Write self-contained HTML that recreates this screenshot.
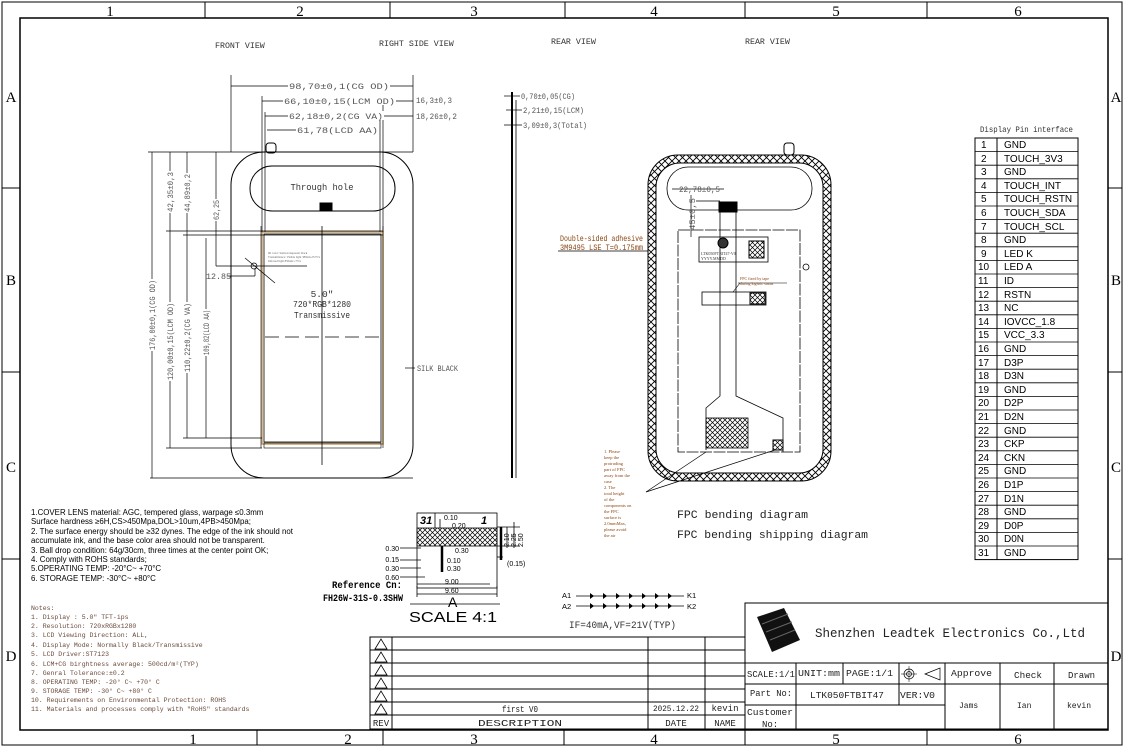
<!DOCTYPE html>
<html><head><meta charset="utf-8"><style>
html,body{margin:0;padding:0;background:#fff;}
svg{display:block;}
text{font-family:"Liberation Serif","Noto Serif CJK SC",serif;}
.m text,text.m{font-family:"Liberation Mono",monospace;}
.s text,text.s{font-family:"Liberation Sans",sans-serif;}
.d text{fill:#555;font-size:8px;font-family:"Liberation Mono",monospace;}
.n text{fill:#6a4a3a;font-size:6.5px;font-family:"Liberation Mono",monospace;}
.pin text{font-family:"Liberation Sans",sans-serif;font-size:10px;fill:#000;}
</style></head><body>
<svg width="1124" height="748" viewBox="0 0 1124 748" xmlns="http://www.w3.org/2000/svg">
<defs>
<pattern id="hx" width="7" height="7" patternUnits="userSpaceOnUse">
<path d="M0,0 L7,7 M7,0 L0,7" stroke="#000" stroke-width="0.9"/>
</pattern>
<pattern id="hx2" width="5" height="5" patternUnits="userSpaceOnUse">
<path d="M0,0 L5,5 M5,0 L0,5" stroke="#000" stroke-width="0.7"/>
</pattern>
</defs>
<rect width="1124" height="748" fill="#fff"/>
<rect x="2" y="2" width="1120" height="743" fill="none" stroke="#000" stroke-width="1"/>
<rect x="20" y="18" width="1088" height="712" fill="none" stroke="#000" stroke-width="1.5"/>
<g stroke="#000" stroke-width="1">
<line x1="205" y1="2" x2="205" y2="18"/><line x1="390" y1="2" x2="390" y2="18"/><line x1="565" y1="2" x2="565" y2="18"/><line x1="745" y1="2" x2="745" y2="18"/><line x1="927" y1="2" x2="927" y2="18"/>
<line x1="257" y1="730" x2="257" y2="745"/><line x1="383" y1="730" x2="383" y2="745"/><line x1="564" y1="730" x2="564" y2="745"/><line x1="745" y1="730" x2="745" y2="745"/><line x1="927" y1="730" x2="927" y2="745"/>
<line x1="2" y1="188" x2="20" y2="188"/><line x1="2" y1="372" x2="20" y2="372"/><line x1="2" y1="559" x2="20" y2="559"/>
<line x1="1108" y1="188" x2="1122" y2="188"/><line x1="1108" y1="372" x2="1122" y2="372"/><line x1="1108" y1="559" x2="1122" y2="559"/>
</g>
<g font-size="15" fill="#000" text-anchor="middle">
<text x="110" y="16">1</text><text x="300" y="16">2</text><text x="474" y="16">3</text><text x="654" y="16">4</text><text x="836" y="16">5</text><text x="1018" y="16">6</text>
<text x="193" y="744">1</text><text x="348" y="744">2</text><text x="474" y="744">3</text><text x="654" y="744">4</text><text x="836" y="744">5</text><text x="1018" y="744">6</text>
<text x="11" y="102">A</text><text x="11" y="285">B</text><text x="11" y="472">C</text><text x="11" y="661">D</text>
<text x="1116" y="102">A</text><text x="1116" y="285">B</text><text x="1116" y="472">C</text><text x="1116" y="661">D</text>
</g>
<g class="m" font-size="8.3" fill="#333">
<text x="215" y="48">FRONT VIEW</text><text x="379" y="46">RIGHT SIDE VIEW</text><text x="551" y="44">REAR VIEW</text><text x="745" y="44">REAR VIEW</text>
</g>
<!-- FRONT VIEW -->
<g fill="none" stroke="#000" stroke-width="1">
<rect x="231" y="152" width="182" height="326" rx="33"/>
<rect x="250" y="166" width="145" height="45" rx="22"/>
<rect x="320" y="203" width="12" height="8" fill="#000"/>
<rect x="266" y="143" width="10" height="10" rx="3"/>
<rect x="262" y="232" width="121" height="212" stroke="#c8a060" stroke-width="1.5"/>
<rect x="264" y="234" width="117" height="208" stroke="#000" stroke-width="0.8"/>
<line x1="322" y1="226" x2="322" y2="465" stroke-width="0.8"/>
<line x1="265" y1="337" x2="380" y2="337" stroke-dasharray="14,6" stroke-width="0.8"/>
<rect x="264" y="443" width="117" height="5" stroke-width="0.6"/>
<line x1="261" y1="226" x2="261" y2="448" stroke-width="0.6"/>
<line x1="383" y1="226" x2="383" y2="448" stroke-width="0.6"/>
</g>
<g stroke="#000" stroke-width="0.7" fill="none">
<line x1="231" y1="75" x2="231" y2="152"/><line x1="413" y1="75" x2="413" y2="152"/>
<line x1="231" y1="86" x2="413" y2="86"/>
<line x1="262" y1="96" x2="262" y2="232"/><line x1="383" y1="96" x2="383" y2="232"/>
<line x1="262" y1="101" x2="413" y2="101"/>
<line x1="265" y1="112" x2="265" y2="232"/><line x1="380" y1="112" x2="380" y2="232"/>
<line x1="265" y1="116" x2="413" y2="116"/>
<line x1="267" y1="130" x2="378" y2="130"/>
<line x1="148" y1="152" x2="413" y2="152"/>
<line x1="150" y1="478" x2="413" y2="478"/>
<line x1="166" y1="231" x2="383" y2="231"/>
<line x1="183" y1="235" x2="383" y2="235"/>
<line x1="166" y1="448" x2="262" y2="448"/>
<line x1="183" y1="438" x2="262" y2="438"/>
<line x1="152" y1="152" x2="152" y2="478"/>
<line x1="170" y1="152" x2="170" y2="448"/>
<line x1="187" y1="152" x2="187" y2="438"/>
<line x1="206" y1="238" x2="206" y2="438"/>
<line x1="216" y1="152" x2="216" y2="266"/>
<line x1="216" y1="266" x2="307" y2="266"/>
<line x1="227" y1="276" x2="255" y2="276"/><line x1="255" y1="276" x2="255" y2="268"/>
<line x1="245" y1="258" x2="275" y2="283"/>
<circle cx="254" cy="266" r="3"/>
<line x1="405" y1="368" x2="415" y2="368"/>
</g>
<g fill="#fff">
<rect x="288" y="81" width="102" height="9"/><rect x="283" y="96" width="113" height="9"/><rect x="288" y="111" width="96" height="9"/><rect x="296" y="125" width="83" height="9"/>
<rect x="148" y="279" width="9" height="72"/><rect x="166" y="302" width="9" height="79"/><rect x="183" y="302" width="9" height="71"/><rect x="202" y="309" width="9" height="47"/>
<rect x="166" y="171" width="9" height="42"/><rect x="183" y="173" width="9" height="40"/><rect x="212" y="199" width="9" height="22"/>
</g>
<g class="d">
<text x="289" y="89" textLength="100" lengthAdjust="spacingAndGlyphs">98,70±0,1(CG OD)</text>
<text x="284" y="104" textLength="111" lengthAdjust="spacingAndGlyphs">66,10±0,15(LCM OD)</text>
<text x="289" y="119" textLength="94" lengthAdjust="spacingAndGlyphs">62,18±0,2(CG VA)</text>
<text x="297" y="133" textLength="81" lengthAdjust="spacingAndGlyphs">61,78(LCD AA)</text>
<text x="416" y="103" textLength="36" lengthAdjust="spacingAndGlyphs">16,3±0,3</text>
<text x="416" y="119" textLength="41" lengthAdjust="spacingAndGlyphs">18,26±0,2</text>
<text x="206" y="279" textLength="25" lengthAdjust="spacingAndGlyphs">12.85</text>
<text x="417" y="371" textLength="41" lengthAdjust="spacingAndGlyphs">SILK BLACK</text>
<text transform="translate(155,350) rotate(-90)" textLength="70" lengthAdjust="spacingAndGlyphs">176,00±0,1(CG OD)</text>
<text transform="translate(173,380) rotate(-90)" textLength="77" lengthAdjust="spacingAndGlyphs">120,00±0,15(LCM OD)</text>
<text transform="translate(190,372) rotate(-90)" textLength="69" lengthAdjust="spacingAndGlyphs">110,22±0,2(CG VA)</text>
<text transform="translate(209,355) rotate(-90)" textLength="45" lengthAdjust="spacingAndGlyphs">109,82(LCD AA)</text>
<text transform="translate(173,212) rotate(-90)" textLength="40" lengthAdjust="spacingAndGlyphs">42,35±0,3</text>
<text transform="translate(190,212) rotate(-90)" textLength="38" lengthAdjust="spacingAndGlyphs">44,89±0,2</text>
<text transform="translate(219,220) rotate(-90)" textLength="20" lengthAdjust="spacingAndGlyphs">62,25</text>
</g>
<g class="m" font-size="9.5" fill="#333" text-anchor="middle">
<text x="322" y="190" textLength="63" lengthAdjust="spacingAndGlyphs">Through hole</text>
<text x="322" y="297">5.0"</text>
<text x="322" y="307" textLength="58" lengthAdjust="spacingAndGlyphs">720*RGB*1280</text>
<text x="322" y="318" textLength="56" lengthAdjust="spacingAndGlyphs">Transmissive</text>
</g>
<g font-size="3" fill="#666"><text x="268" y="254">IR color: Semi-transparent black</text><text x="268" y="258">Transmittance: Visible light 380nm-25±5%</text><text x="268" y="262">Infrared light 850nm:≥75%</text></g>
<!-- SIDE VIEW -->
<g stroke="#000" fill="none">
<line x1="512" y1="92" x2="512" y2="478" stroke-width="2"/>
<line x1="516" y1="100" x2="516" y2="478" stroke-width="0.8"/>
<line x1="504" y1="96" x2="520" y2="96" stroke-width="0.7"/>
<line x1="506" y1="110" x2="522" y2="110" stroke-width="0.7"/>
<line x1="504" y1="125" x2="522" y2="125" stroke-width="0.7"/>
</g>
<g class="d"><text x="521" y="99" textLength="54" lengthAdjust="spacingAndGlyphs">0,70±0,05(CG)</text><text x="523" y="113" textLength="61" lengthAdjust="spacingAndGlyphs">2,21±0,15(LCM)</text><text x="523" y="128" textLength="64" lengthAdjust="spacingAndGlyphs">3,09±0,3(Total)</text></g>
<!-- REAR VIEW -->
<g stroke="#000" fill="none">
<rect x="648" y="155" width="183" height="326" rx="30" fill="url(#hx)" stroke-width="1"/>
<rect x="656" y="163" width="167" height="310" rx="24" fill="#fff" stroke-width="1"/>
<rect x="667" y="167" width="145" height="43" rx="21" stroke-width="0.8"/>
<rect x="678" y="230" width="122" height="222" stroke-width="0.8" stroke-dasharray="12,1.5"/>
<rect x="784" y="143" width="10" height="12" rx="3" fill="#fff"/>
<rect x="719" y="202" width="18" height="10" fill="#000"/>
<path d="M720,212 V396 L706,408 V450 M736,212 V396 L783,418 V452" stroke-width="0.8"/>
<rect x="706" y="418" width="42" height="30" fill="url(#hx2)" stroke-width="0.8"/>
<rect x="773" y="440" width="10" height="10" fill="url(#hx2)"/>
<rect x="699" y="237" width="69" height="25" stroke-width="0.8"/>
<rect x="749" y="241" width="15" height="17" fill="url(#hx2)"/>
<circle cx="723" cy="243" r="5" fill="#333"/>
<rect x="702" y="292" width="64" height="13" stroke-width="0.8"/>
<rect x="750" y="293" width="15" height="11" fill="url(#hx2)"/>
<circle cx="806" cy="267" r="3" stroke-width="0.8"/>
<line x1="672" y1="189" x2="724" y2="189" stroke-width="0.7"/>
<line x1="696" y1="201" x2="720" y2="201" stroke-width="0.7"/>
<line x1="691" y1="195" x2="691" y2="237" stroke-width="0.7"/>
<line x1="558" y1="251" x2="648" y2="251" stroke-width="0.7"/>
<line x1="738" y1="283" x2="787" y2="283" stroke-width="0.6"/>
<line x1="733" y1="292" x2="740" y2="283" stroke-width="0.6"/>
<line x1="646" y1="492" x2="706" y2="452" stroke-width="0.7"/>
<line x1="646" y1="492" x2="775" y2="450" stroke-width="0.7"/>
</g>
<g class="d"><text x="679" y="192" textLength="41" lengthAdjust="spacingAndGlyphs">22,78±0,5</text><text transform="translate(695,230) rotate(-90)" textLength="32" lengthAdjust="spacingAndGlyphs">45±0,5</text></g>
<g class="m" font-size="8" fill="#8b4513"><text x="560" y="241" textLength="83" lengthAdjust="spacingAndGlyphs">Double-sided adhesive</text><text x="560" y="250" textLength="83" lengthAdjust="spacingAndGlyphs">3M9495 LSE T=0.175mm</text></g>
<g font-size="4" fill="#8b4513"><text x="740" y="280">FPC fixed by tape</text><text x="740" y="285">during logistic status</text></g>
<g font-size="4" fill="#333"><text x="701" y="255">LTK050FTBIT47-V0</text><text x="701" y="260">YYYY.MMDD</text></g>
<g font-size="4.5" fill="#8b4513">
<text x="604" y="453">1. Please</text><text x="604" y="459">keep the</text><text x="604" y="465">protruding</text><text x="604" y="471">part of FPC</text><text x="604" y="477">away from the</text><text x="604" y="483">case</text><text x="604" y="489">2.    The</text><text x="604" y="495">total height</text><text x="604" y="501">of the</text><text x="604" y="507">components on</text><text x="604" y="513">the FPC</text><text x="604" y="519">surface is</text><text x="604" y="525">2.0mmMax,</text><text x="604" y="531">please avoid</text><text x="604" y="537">the air</text>
</g>
<g class="m" font-size="11.4" fill="#222"><text x="677" y="518" textLength="131" lengthAdjust="spacingAndGlyphs">FPC bending diagram</text><text x="677" y="538" textLength="191" lengthAdjust="spacingAndGlyphs">FPC bending shipping diagram</text></g>
<!-- connector detail -->
<g stroke="#000" fill="none" stroke-width="0.8">
<rect x="417" y="513" width="80" height="75"/>
<rect x="417" y="528" width="80" height="18" fill="url(#hx2)"/>
<line x1="417" y1="586" x2="417" y2="597"/><line x1="497" y1="586" x2="497" y2="597"/>
<line x1="417" y1="584" x2="490" y2="584"/><line x1="417" y1="594" x2="497" y2="594"/>
<line x1="435" y1="513" x2="435" y2="528"/><line x1="440" y1="519" x2="440" y2="528"/>
<line x1="400" y1="548" x2="421" y2="548"/><line x1="400" y1="560" x2="421" y2="560"/><line x1="400" y1="568" x2="421" y2="568"/><line x1="400" y1="577" x2="425" y2="577"/>
<line x1="442" y1="546" x2="442" y2="572" stroke-width="2.5"/>
<line x1="497" y1="527" x2="520" y2="527"/><line x1="497" y1="546" x2="520" y2="546"/><line x1="497" y1="557" x2="503" y2="557"/>
<line x1="501" y1="527" x2="501" y2="560" stroke-width="2.5"/><line x1="507" y1="527" x2="507" y2="548"/><line x1="514" y1="522" x2="514" y2="548"/>
<line x1="410" y1="604" x2="500" y2="604"/>
</g>
<g class="s" font-size="7" fill="#000">
<text x="420" y="524" font-size="11" font-style="italic" font-weight="bold">31</text><text x="481" y="524" font-size="11" font-style="italic" font-weight="bold">1</text>
<text x="444" y="520">0.10</text><text x="452" y="528">0.20</text>
<text x="399" y="551" text-anchor="end">0.30</text><text x="399" y="562" text-anchor="end">0.15</text><text x="399" y="571" text-anchor="end">0.30</text><text x="399" y="580" text-anchor="end">0.60</text>
<text x="455" y="553">0.30</text><text x="447" y="563">0.10</text><text x="447" y="571">0.30</text>
<text x="507" y="566">(0.15)</text>
<text x="445" y="584">9.00</text><text x="445" y="593">9.60</text>
<text transform="translate(509,547) rotate(-90)">2.10</text><text transform="translate(516,547) rotate(-90)">2.25</text><text transform="translate(523,547) rotate(-90)">2.50</text>
<text x="448" y="607" font-size="14">A</text>
<text x="409" y="622" font-size="15" textLength="88" lengthAdjust="spacingAndGlyphs">SCALE 4:1</text>
</g>
<g class="m" font-weight="bold" font-size="10" fill="#000"><text x="332" y="588" textLength="70" lengthAdjust="spacingAndGlyphs">Reference Cn:</text><text x="323" y="601" textLength="80" lengthAdjust="spacingAndGlyphs">FH26W-31S-0.3SHW</text></g>
<!-- LED -->
<g class="s" font-size="7.5" fill="#000"><text x="562" y="598">A1</text><text x="562" y="609">A2</text><text x="687" y="598">K1</text><text x="687" y="609">K2</text></g>
<g stroke="#000" stroke-width="0.8"><line x1="576" y1="596" x2="684" y2="596"/><line x1="576" y1="606" x2="684" y2="606"/></g>
<g fill="#000">
<path d="M590,593 l4,3 l-4,3Z M603,593 l4,3 l-4,3Z M616,593 l4,3 l-4,3Z M629,593 l4,3 l-4,3Z M642,593 l4,3 l-4,3Z M655,593 l4,3 l-4,3Z M668,593 l4,3 l-4,3Z"/>
<path d="M590,603 l4,3 l-4,3Z M603,603 l4,3 l-4,3Z M616,603 l4,3 l-4,3Z M629,603 l4,3 l-4,3Z M642,603 l4,3 l-4,3Z M655,603 l4,3 l-4,3Z M668,603 l4,3 l-4,3Z"/>
</g>
<text class="m" x="569" y="628" font-size="10" fill="#333" textLength="107" lengthAdjust="spacingAndGlyphs">IF=40mA,VF=21V(TYP)</text>
<!-- spec notes -->
<g class="s" font-size="7.9" fill="#000">
<text x="31" y="515">1.COVER LENS material: AGC, tempered glass, warpage ≤0.3mm</text>
<text x="31" y="524">Surface hardness ≥6H,CS&gt;450Mpa,DOL&gt;10um,4PB&gt;450Mpa;</text>
<text x="31" y="534">2. The surface energy should be ≥32 dynes. The edge of the ink should not</text>
<text x="31" y="543">accumulate ink, and the base color area should not be transparent.</text>
<text x="31" y="553">3. Ball drop condition: 64g/30cm, three times at the center point OK;</text>
<text x="31" y="562">4. Comply with ROHS standards;</text>
<text x="31" y="571">5.OPERATING TEMP: -20°C~ +70°C</text>
<text x="31" y="581">6. STORAGE TEMP: -30°C~ +80°C</text>
</g>
<g class="n">
<text x="31" y="610">Notes:</text>
<text x="31" y="619">1. Display : 5.0" TFT-ips</text>
<text x="31" y="628">2. Resolution: 720xRGBx1280</text>
<text x="31" y="637">3. LCD Viewing Direction: ALL,</text>
<text x="31" y="647">4. Display Mode: Normally Black/Transmissive</text>
<text x="31" y="656">5. LCD Driver:ST7123</text>
<text x="31" y="666">6. LCM+CG birghtness average: 500cd/m²(TYP)</text>
<text x="31" y="675">7. Genral Tolerance:±0.2</text>
<text x="31" y="684">8. OPERATING TEMP: -20° C~ +70° C</text>
<text x="31" y="693">9. STORAGE TEMP: -30° C~ +80° C</text>
<text x="31" y="702">10. Requirements on Environmental Protection: ROHS</text>
<text x="31" y="711">11. Materials and processes comply with "RoHS" standards</text>
</g>
<!-- revision table -->
<g stroke="#000" stroke-width="1" fill="none">
<rect x="370" y="637" width="375" height="92"/>
<line x1="370" y1="650" x2="745" y2="650"/><line x1="370" y1="663" x2="745" y2="663"/><line x1="370" y1="676" x2="745" y2="676"/><line x1="370" y1="689" x2="745" y2="689"/><line x1="370" y1="702" x2="745" y2="702"/><line x1="370" y1="715" x2="745" y2="715"/>
<line x1="392" y1="637" x2="392" y2="729"/><line x1="648" y1="637" x2="648" y2="729"/><line x1="705" y1="637" x2="705" y2="729"/>
</g>
<g stroke="#000" stroke-width="0.8" fill="#fff">
<path d="M375,649 L381,639 L387,649Z"/><path d="M375,662 L381,652 L387,662Z"/><path d="M375,675 L381,665 L387,675Z"/><path d="M375,688 L381,678 L387,688Z"/><path d="M375,701 L381,691 L387,701Z"/><path d="M375,714 L381,704 L387,714Z"/>
</g>
<g class="m" font-size="9" fill="#222" text-anchor="middle">
<text x="520" y="712" textLength="36" lengthAdjust="spacingAndGlyphs">first V0</text><text x="676" y="711" font-size="8" textLength="46" lengthAdjust="spacingAndGlyphs">2025.12.22</text><text x="725" y="711">kevin</text>
<text x="381" y="726">REV</text><text x="520" y="726" textLength="84" lengthAdjust="spacingAndGlyphs">DESCRIPTION</text><text x="676" y="726">DATE</text><text x="725" y="726">NAME</text>
</g>
<!-- title block -->
<g stroke="#000" stroke-width="1" fill="none">
<rect x="745" y="603" width="363" height="126"/>
<line x1="745" y1="663" x2="1108" y2="663"/><line x1="745" y1="684" x2="1108" y2="684"/><line x1="745" y1="705" x2="945" y2="705"/>
<line x1="796" y1="663" x2="796" y2="729"/><line x1="843" y1="663" x2="843" y2="684"/><line x1="899" y1="663" x2="899" y2="705"/><line x1="945" y1="663" x2="945" y2="729"/><line x1="1000" y1="663" x2="1000" y2="729"/><line x1="1054" y1="663" x2="1054" y2="729"/>
<circle cx="909" cy="674" r="5" stroke-width="0.7"/><circle cx="909" cy="674" r="2.5" stroke-width="0.7"/><line x1="901" y1="674" x2="917" y2="674" stroke-width="0.5"/><line x1="909" y1="666" x2="909" y2="682" stroke-width="0.5"/>
<path d="M925,674 L940,668 L940,680Z" stroke-width="0.7"/>
</g>
<path d="M757,617 L784,608 L800,640 L772,652 Z" fill="#111"/>
<path d="M762,624 L788,614 M766,632 L792,622 M770,640 L795,630" stroke="#666" stroke-width="1"/>
<text class="m" x="815" y="637" font-size="12.5" fill="#222" textLength="270" lengthAdjust="spacingAndGlyphs">Shenzhen Leadtek Electronics Co.,Ltd</text>
<g class="m" font-size="9" fill="#222">
<text x="747" y="677" textLength="48" lengthAdjust="spacingAndGlyphs">SCALE:1/1</text><text x="798" y="676" textLength="42" lengthAdjust="spacingAndGlyphs">UNIT:mm</text><text x="846" y="676" textLength="47" lengthAdjust="spacingAndGlyphs">PAGE:1/1</text>
<text x="951" y="676" textLength="41" lengthAdjust="spacingAndGlyphs">Approve</text><text x="1014" y="678" textLength="28" lengthAdjust="spacingAndGlyphs">Check</text><text x="1068" y="678" textLength="27" lengthAdjust="spacingAndGlyphs">Drawn</text>
<text x="750" y="696" textLength="42" lengthAdjust="spacingAndGlyphs">Part No:</text><text x="810" y="698" textLength="74" lengthAdjust="spacingAndGlyphs">LTK050FTBIT47</text><text x="900" y="698" textLength="35" lengthAdjust="spacingAndGlyphs">VER:V0</text>
<text x="959" y="708" font-size="8">Jams</text><text x="1017" y="708" font-size="8">Ian</text><text x="1067" y="708" font-size="8">kevin</text>
<text x="747" y="715" textLength="46" lengthAdjust="spacingAndGlyphs">Customer</text><text x="762" y="727">No:</text>
</g>
<!-- pin table -->
<text class="m" x="980" y="132" font-size="8" fill="#333" textLength="93" lengthAdjust="spacingAndGlyphs">Display Pin interface</text>
<g stroke="#000" stroke-width="1" fill="none">
<rect x="975" y="138" width="103" height="421.6"/>
<line x1="997" y1="138" x2="997" y2="559.6"/>
</g>
<g class="pin">
<text x="981" y="148">1</text><text x="1004" y="148">GND</text>
<text x="981" y="162">2</text><text x="1004" y="162">TOUCH_3V3</text>
<text x="981" y="175">3</text><text x="1004" y="175">GND</text>
<text x="981" y="189">4</text><text x="1004" y="189">TOUCH_INT</text>
<text x="981" y="202">5</text><text x="1004" y="202">TOUCH_RSTN</text>
<text x="981" y="216">6</text><text x="1004" y="216">TOUCH_SDA</text>
<text x="981" y="230">7</text><text x="1004" y="230">TOUCH_SCL</text>
<text x="981" y="243">8</text><text x="1004" y="243">GND</text>
<text x="981" y="257">9</text><text x="1004" y="257">LED  K</text>
<text x="978" y="270">10</text><text x="1004" y="270">LED  A</text>
<text x="978" y="284">11</text><text x="1004" y="284">ID</text>
<text x="978" y="298">12</text><text x="1004" y="298">RSTN</text>
<text x="978" y="311">13</text><text x="1004" y="311">NC</text>
<text x="978" y="325">14</text><text x="1004" y="325">IOVCC_1.8</text>
<text x="978" y="338">15</text><text x="1004" y="338">VCC_3.3</text>
<text x="978" y="352">16</text><text x="1004" y="352">GND</text>
<text x="978" y="366">17</text><text x="1004" y="366">D3P</text>
<text x="978" y="379">18</text><text x="1004" y="379">D3N</text>
<text x="978" y="393">19</text><text x="1004" y="393">GND</text>
<text x="978" y="406">20</text><text x="1004" y="406">D2P</text>
<text x="978" y="420">21</text><text x="1004" y="420">D2N</text>
<text x="978" y="434">22</text><text x="1004" y="434">GND</text>
<text x="978" y="447">23</text><text x="1004" y="447">CKP</text>
<text x="978" y="461">24</text><text x="1004" y="461">CKN</text>
<text x="978" y="474">25</text><text x="1004" y="474">GND</text>
<text x="978" y="488">26</text><text x="1004" y="488">D1P</text>
<text x="978" y="502">27</text><text x="1004" y="502">D1N</text>
<text x="978" y="515">28</text><text x="1004" y="515">GND</text>
<text x="978" y="529">29</text><text x="1004" y="529">D0P</text>
<text x="978" y="542">30</text><text x="1004" y="542">D0N</text>
<text x="978" y="556">31</text><text x="1004" y="556">GND</text>
</g>
<g stroke="#000" stroke-width="0.8">
<line x1="975" y1="151.6" x2="1078" y2="151.6"/><line x1="975" y1="165.2" x2="1078" y2="165.2"/><line x1="975" y1="178.8" x2="1078" y2="178.8"/><line x1="975" y1="192.4" x2="1078" y2="192.4"/><line x1="975" y1="206" x2="1078" y2="206"/><line x1="975" y1="219.6" x2="1078" y2="219.6"/><line x1="975" y1="233.2" x2="1078" y2="233.2"/><line x1="975" y1="246.8" x2="1078" y2="246.8"/><line x1="975" y1="260.4" x2="1078" y2="260.4"/><line x1="975" y1="274" x2="1078" y2="274"/><line x1="975" y1="287.6" x2="1078" y2="287.6"/><line x1="975" y1="301.2" x2="1078" y2="301.2"/><line x1="975" y1="314.8" x2="1078" y2="314.8"/><line x1="975" y1="328.4" x2="1078" y2="328.4"/><line x1="975" y1="342" x2="1078" y2="342"/><line x1="975" y1="355.6" x2="1078" y2="355.6"/><line x1="975" y1="369.2" x2="1078" y2="369.2"/><line x1="975" y1="382.8" x2="1078" y2="382.8"/><line x1="975" y1="396.4" x2="1078" y2="396.4"/><line x1="975" y1="410" x2="1078" y2="410"/><line x1="975" y1="423.6" x2="1078" y2="423.6"/><line x1="975" y1="437.2" x2="1078" y2="437.2"/><line x1="975" y1="450.8" x2="1078" y2="450.8"/><line x1="975" y1="464.4" x2="1078" y2="464.4"/><line x1="975" y1="478" x2="1078" y2="478"/><line x1="975" y1="491.6" x2="1078" y2="491.6"/><line x1="975" y1="505.2" x2="1078" y2="505.2"/><line x1="975" y1="518.8" x2="1078" y2="518.8"/><line x1="975" y1="532.4" x2="1078" y2="532.4"/><line x1="975" y1="546" x2="1078" y2="546"/>
</g>
</svg>
</body></html>
